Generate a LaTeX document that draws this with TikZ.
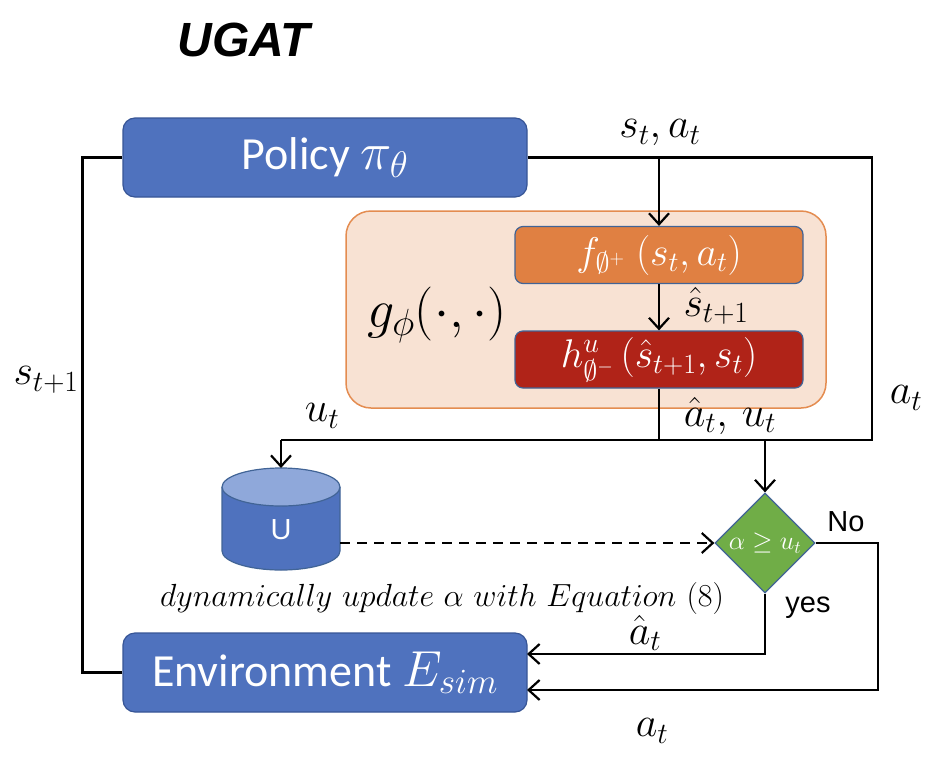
\RequirePackage{fix-cm}
\documentclass[tikz,border=0pt]{standalone}
\usepackage{amssymb}
\usepackage{fontspec}
\newfontfamily\carl{Carlito}
\newfontfamily\arial{Liberation Sans}
\usetikzlibrary{arrows.meta,shapes.geometric}
\definecolor{pblue}{RGB}{79,114,190}
\definecolor{pblueedge}{RGB}{55,85,150}
\definecolor{ltblue}{RGB}{143,168,218}
\definecolor{peach}{RGB}{248,226,211}
\definecolor{peachedge}{RGB}{228,140,80}
\definecolor{forange}{RGB}{224,128,66}
\definecolor{hred}{RGB}{176,35,24}
\definecolor{dgreen}{RGB}{112,173,71}
\definecolor{edgeblue}{RGB}{65,100,150}
\tikzset{
  bigbox/.style={draw=pblueedge, line width=1.2pt, fill=pblue, rounded corners=12pt,
    minimum width=404pt, minimum height=79pt, text=white, font=\carl\fontsize{46}{50}\selectfont},
  inbox/.style={draw=edgeblue, line width=1.2pt, rounded corners=8pt,
    minimum width=288pt, minimum height=57pt, text=white, font=\fontsize{40}{44}\selectfont},
  wire/.style={line width=2.2pt},
  arr/.style={wire, -{Straight Barb[length=11pt,width=20pt]}},
  lbl/.style={font=\fontsize{42}{46}\selectfont},
  txt/.style={font=\arial\fontsize{29}{32}\selectfont}
}
\begin{document}
\begin{tikzpicture}[x=1pt,y=-1pt]
\useasboundingbox (0,0) rectangle (942,774);
\node[font=\arial\bfseries\itshape\fontsize{48}{52}\selectfont] (title) at (244,40) {UGAT};
\node[bigbox] (policy) at (325,157.5) {Policy \scalebox{1.15}{$\pi_\theta$}};
\node[bigbox] (env) at (325,672.5) {Environment \scalebox{1.1}{$E_{sim}$}};
\node[draw=peachedge, fill=peach, line width=1.5pt, rounded corners=25pt,
  minimum width=480pt, minimum height=197pt] (gbox) at (586,309.5) {};
\node[font=\fontsize{54}{58}\selectfont] (glabel) at (437,315) {$g_\phi(\cdot,\cdot)$};
\node[inbox, fill=forange] (f) at (659,255) {$f_{\emptyset^+}\;(s_t,a_t)$};
\node[inbox, fill=hred] (h) at (659,359.5) {$h^{u}_{\emptyset^{-}}\,(\hat s_{t+1},s_t)$};
\node[diamond, draw=edgeblue, fill=dgreen, line width=1.2pt, minimum width=100pt,
  minimum height=100pt, inner sep=0pt, text=white, font=\fontsize{26}{30}\selectfont]
  (dec) at (765,543) {$\alpha\geq u_t$};
% cylinder
\fill[pblue] (222,487) -- (222,551) arc[start angle=180,end angle=360,x radius=59pt,y radius=19pt] -- (340,487) -- cycle;
\draw[edgeblue, line width=1.2pt] (222,487) -- (222,551) arc[start angle=180,end angle=360,x radius=59pt,y radius=19pt] -- (340,487);
\draw[edgeblue, line width=1.2pt, fill=ltblue] (281,487) ellipse[x radius=59pt, y radius=19pt];
\node[txt, text=white] (ucyl) at (281,530) {U};
\coordinate (cyltop) at (281,468);
\coordinate (cylright) at (340,543);
\coordinate (aright) at (872,440);
\coordinate (ul) at (281,440);
\coordinate (e1) at (527,654);
\coordinate (e2) at (527,690);
% connectors
\draw[wire] (policy.east) -| (aright) -- (ul);
\draw[arr] (ul) -- (cyltop);
\draw[wire] (h.south) -- (h.south |- ul);
\draw[arr] (dec.north |- ul) -- (dec.north);
\draw[arr] (f.north |- policy.east) -- (f.north);
\draw[arr] (f) -- (h);
\draw[arr, dashed, dash pattern=on 10pt off 7pt] (cylright) -- (dec.west);
\draw[arr] (dec.south) |- (e1);
\draw[arr] (dec.east) -- ++(62,0) |- (e2);
\draw[wire] (env.west) -- ++(-40,0) |- (policy.west);
% labels
\node[lbl] (l1) at (660,133) {$s_t, a_t$};
\node[lbl] (l2) at (716,306) {$\hat s_{t+1}$};
\node[lbl] (l3) at (730,416) {$\hat a_t,\, u_t$};
\node[lbl] (l4) at (322,416) {$u_t$};
\node[lbl] (l5) at (906,398) {$a_t$};
\node[lbl] (l6) at (46,380) {$s_{t+1}$};
\node[lbl] (l7) at (645,633) {$\hat a_t$};
\node[lbl] (l8) at (652,731) {$a_t$};
\node[txt] (no) at (846,522) {No};
\node[txt] (yes) at (808,608) {yes};
\node[font=\fontsize{32}{36}\selectfont] (cap) at (442,598) {$dynamically\ update\ \alpha\ with\ Equation\ (8)$};
\end{tikzpicture}
\end{document}
